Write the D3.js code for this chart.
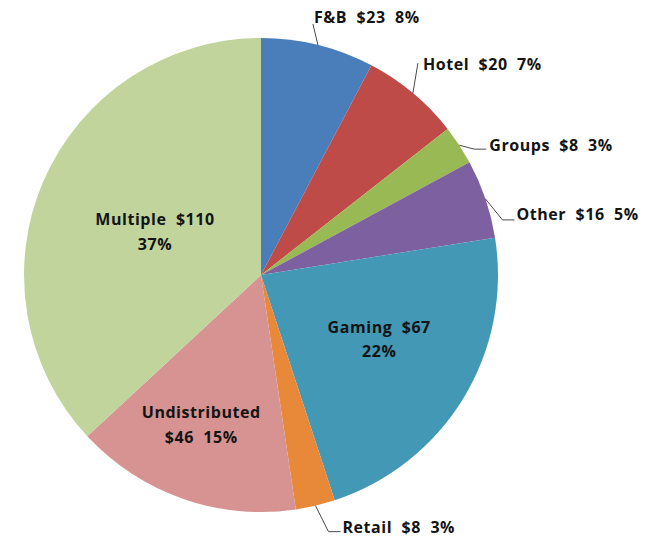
<!DOCTYPE html>
<html>
<head>
<meta charset="utf-8">
<script src="https://cdn.jsdelivr.net/npm/d3@7"></script>
<style>
  html, body { margin: 0; padding: 0; background: #fff; }
  svg { display: block; }
  text { font-family: "Open Sans", Lato, sans-serif; font-weight: 700; fill: #141414; white-space: pre; letter-spacing: 0.55px; }
</style>
</head>
<body>
<svg id="chart" width="648" height="539"></svg>
<script>
// Spending by department ($ and share of total)
const categories = ["F&B", "Hotel", "Groups", "Other", "Gaming", "Retail", "Undistributed", "Multiple"];
const amounts    = [23, 20, 8, 16, 67, 8, 46, 110];
const colors     = ["#4A7EBB", "#BE4B48", "#98B954", "#7D60A0", "#4298B5", "#E8893A", "#D69391", "#C0D49C"];

// Labels inside the pie break onto two lines: after the value or after the name
const innerBreak = { "Gaming": "value", "Undistributed": "name", "Multiple": "value" };

const width = 648, height = 539;
const cx = 261, cy = 275, R = 237;
const fontSize = 16;

// Inside labels: radius from centre plus a small pixel nudge
const innerLayout = {
  "Multiple":      { r: 114, dx: -1.5, dy: 3.6 },
  "Gaming":        { r: 135, dx: 3,    dy: -4.7 },
  "Undistributed": { r: 162.5, dx: -6, dy: -2 }
};
// Outside labels: text start and leader points relative to the slice's edge point
const outerLayout = {
  "F&B":    { text: [-4, -22], leader: [[-5, -21]] },
  "Hotel":  { text: [10, -23], leader: [[5, -30]] },
  "Groups": { text: [30, 6],   leader: [[15, 4], [27, 4]] },
  "Other":  { text: [31, 21],  leader: [[17, 21], [29, 21]] },
  "Retail": { text: [27, 27],  leader: [[13, 26], [25, 26]] }
};

const data = categories.map((c, i) => ({ name: c, value: amounts[i], color: colors[i] }));
const total = d3.sum(amounts);
const pct = v => Math.round(v / total * 100) + "%";

const svg = d3.select("#chart");
const g = svg.append("g").attr("transform", `translate(${cx},${cy})`);

const pie = d3.pie().sort(null).value(d => d.value);
const arcs = pie(data);
const arc = d3.arc().innerRadius(0).outerRadius(R);

g.selectAll("path.slice")
  .data(arcs)
  .join("path")
  .attr("class", "slice")
  .attr("d", arc)
  .attr("fill", d => d.data.color);

const mid = d => (d.startAngle + d.endAngle) / 2;
const polar = (a, r) => [r * Math.sin(a), -r * Math.cos(a)];

// Labels drawn inside their slices
arcs.filter(d => innerLayout[d.data.name]).forEach(d => {
  const L = innerLayout[d.data.name];
  const [x, y] = polar(mid(d), L.r);
  const name = d.data.name, val = "$" + d.data.value, p = pct(d.data.value);
  const lines = innerBreak[name] === "name"
    ? [name, val + "  " + p]
    : [name + "  " + val, p];
  const t = g.append("text")
    .attr("text-anchor", "middle")
    .attr("font-size", fontSize)
    .attr("x", x + L.dx)
    .attr("y", y + L.dy);
  lines.forEach((ln, i) => {
    t.append("tspan")
      .attr("x", x + L.dx)
      .attr("dy", i === 0 ? -8 : 24.5)
      .text(ln);
  });
});

// Labels outside the pie with leader lines
arcs.filter(d => outerLayout[d.data.name]).forEach(d => {
  const L = outerLayout[d.data.name];
  const [ex, ey] = polar(mid(d), R);
  const pts = [[ex, ey]].concat(L.leader.map(([dx, dy]) => [ex + dx, ey + dy]));
  g.append("path")
    .attr("d", d3.line()(pts))
    .attr("fill", "none")
    .attr("stroke", "#4a4a4a")
    .attr("stroke-width", 1);
  g.append("text")
    .attr("font-size", fontSize)
    .attr("x", ex + L.text[0])
    .attr("y", ey + L.text[1])
    .text(d.data.name + "  $" + d.data.value + "  " + pct(d.data.value));
});
</script>
</body>
</html>
